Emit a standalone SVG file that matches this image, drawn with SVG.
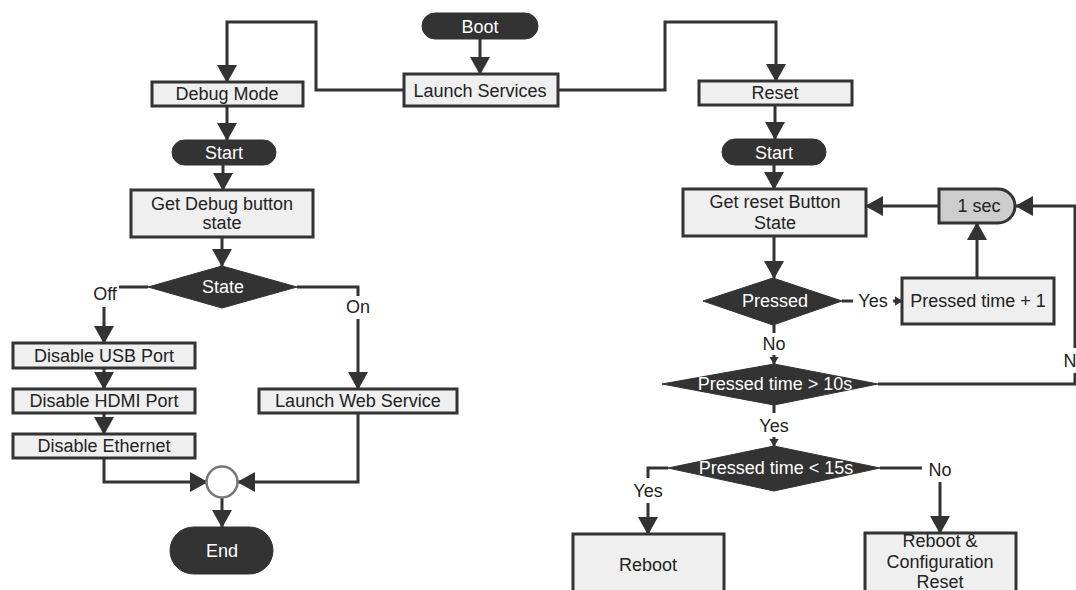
<svg xmlns="http://www.w3.org/2000/svg" width="1076" height="590" viewBox="0 0 1076 590">
<style>
text{font-family:"Liberation Sans",Arial,sans-serif;font-size:18px;text-anchor:middle;fill:#222}
.box{fill:#efefef;stroke:#333;stroke-width:3}
.dark{fill:#333;stroke:#333;stroke-width:1}
.w{fill:#fff}
.ln{fill:none;stroke:#333;stroke-width:3}
.a{marker-end:url(#ah)}
.s{marker-end:url(#sh)}
</style>
<defs>
<marker id="ah" viewBox="0 0 18 20" refX="17" refY="10" markerWidth="18" markerHeight="20" markerUnits="userSpaceOnUse" orient="auto"><path d="M0,0 L18,10 L0,20 z" fill="#333"/></marker>
<marker id="sh" viewBox="0 0 8 10" refX="7.5" refY="5" markerWidth="8" markerHeight="10" markerUnits="userSpaceOnUse" orient="auto"><path d="M0,0 L8,5 L0,10 z" fill="#333"/></marker>
</defs>
<rect width="1076" height="590" fill="#fff"/>
<g id="connectors">
<path class="ln a" d="M480,39 V74"/>
<path class="ln a" d="M404,90 H316 V22 H227 V82"/>
<path class="ln a" d="M558,90 H665 V22 H776 V81"/>
<path class="ln a" d="M227,106 V140"/>
<path class="ln a" d="M223,165 V190"/>
<path class="ln a" d="M222,237 V266"/>
<path class="ln" d="M148,287 H119"/>
<path class="ln a" d="M104,307 V343"/>
<path class="ln" d="M297,287 H358 V296"/>
<path class="ln a" d="M358,319 V389"/>
<path class="ln a" d="M104,368 V389"/>
<path class="ln a" d="M104,413 V434"/>
<path class="ln a" d="M104,458 V482 H207"/>
<path class="ln a" d="M358,413 V482 H238"/>
<path class="ln a" d="M222,498 V527"/>
<path class="ln a" d="M775,105 V139"/>
<path class="ln a" d="M774,165 V189"/>
<path class="ln a" d="M774,236 V278"/>
<path class="ln" d="M842,301 H853"/>
<path class="ln s" d="M893,301 H902"/>
<path class="ln" d="M774,325 V333"/>
<path class="ln s" d="M774,355 V364"/>
<path class="ln a" d="M977,278 V223"/>
<path class="ln a" d="M939,206 H866"/>
<path class="ln" d="M878,384 H1075 V373"/>
<path class="ln a" d="M1075,348 V206 H1016"/>
<path class="ln" d="M774,405 V413"/>
<path class="ln s" d="M774,437 V446"/>
<path class="ln" d="M668,468 H648 V478"/>
<path class="ln a" d="M648,503 V534"/>
<path class="ln" d="M880,468 H922"/>
<path class="ln a" d="M940,482 V533"/>
<text x="105" y="300">Off</text>
<text x="358" y="313">On</text>
<text x="873" y="307">Yes</text>
<text x="774" y="350">No</text>
<text x="1070" y="367">N</text>
<text x="774" y="432">Yes</text>
<text x="648" y="497">Yes</text>
<text x="940" y="476">No</text>
</g>
<g id="boot"><rect class="dark" x="422" y="13" width="116" height="26" rx="13"/><text class="w" x="480" y="33">Boot</text></g>
<g id="launch-services"><rect class="box" x="404" y="74" width="154" height="32"/><text x="480" y="97">Launch Services</text></g>
<g id="debug-mode"><rect class="box" x="152" y="82" width="151" height="24"/><text x="227" y="100">Debug Mode</text></g>
<g id="start-left"><rect class="dark" x="172" y="140" width="104" height="25" rx="12.5"/><text class="w" x="224" y="159">Start</text></g>
<g id="get-debug"><rect class="box" x="131" y="190" width="182" height="47"/><text x="222" y="210">Get Debug button</text><text x="222" y="229">state</text></g>
<g id="state"><polygon class="dark" points="148,287 222,266 297,287 222,308"/><text class="w" x="223" y="293">State</text></g>
<g id="disable-usb"><rect class="box" x="13" y="343" width="182" height="25"/><text x="104" y="362">Disable USB Port</text></g>
<g id="disable-hdmi"><rect class="box" x="13" y="389" width="182" height="24"/><text x="104" y="407">Disable HDMI Port</text></g>
<g id="disable-ethernet"><rect class="box" x="13" y="434" width="182" height="24"/><text x="104" y="452">Disable Ethernet</text></g>
<g id="launch-web"><rect class="box" x="259" y="389" width="198" height="24"/><text x="358" y="407">Launch Web Service</text></g>
<g id="merge"><circle cx="222" cy="482" r="15.5" fill="#fff" stroke="#777" stroke-width="2.5"/></g>
<g id="end"><rect class="dark" x="170" y="527" width="103" height="47" rx="23.5"/><text class="w" x="222" y="557">End</text></g>
<g id="reset"><rect class="box" x="699" y="81" width="153" height="24"/><text x="775" y="99">Reset</text></g>
<g id="start-right"><rect class="dark" x="722" y="139" width="104" height="26" rx="13"/><text class="w" x="774" y="159">Start</text></g>
<g id="get-reset"><rect class="box" x="683" y="189" width="183" height="47"/><text x="775" y="208">Get reset Button</text><text x="775" y="229">State</text></g>
<g id="delay"><path d="M939,189 H998 A17,17 0 0 1 998,223 H939 Z" fill="#cdcdcd" stroke="#333" stroke-width="3"/><text x="979" y="212">1 sec</text></g>
<g id="pressed"><polygon class="dark" points="703,301 773,278 842,301 773,325"/><text class="w" x="775" y="307">Pressed</text></g>
<g id="pressed-time-plus"><rect class="box" x="902" y="278" width="152" height="46"/><text x="978" y="307">Pressed time + 1</text></g>
<g id="gt10"><polygon class="dark" points="662,384 774,364 878,384 774,405"/><text class="w" x="775" y="390">Pressed time &gt; 10s</text></g>
<g id="lt15"><polygon class="dark" points="668,468 774,446 880,468 774,491"/><text class="w" x="776" y="474">Pressed time &lt; 15s</text></g>
<g id="reboot"><rect class="box" x="573" y="534" width="151" height="70"/><text x="648" y="571">Reboot</text></g>
<g id="reboot-config"><rect class="box" x="865" y="533" width="151" height="70"/><text x="940" y="547">Reboot &amp;</text><text x="940" y="568">Configuration</text><text x="940" y="588">Reset</text></g>
</svg>
